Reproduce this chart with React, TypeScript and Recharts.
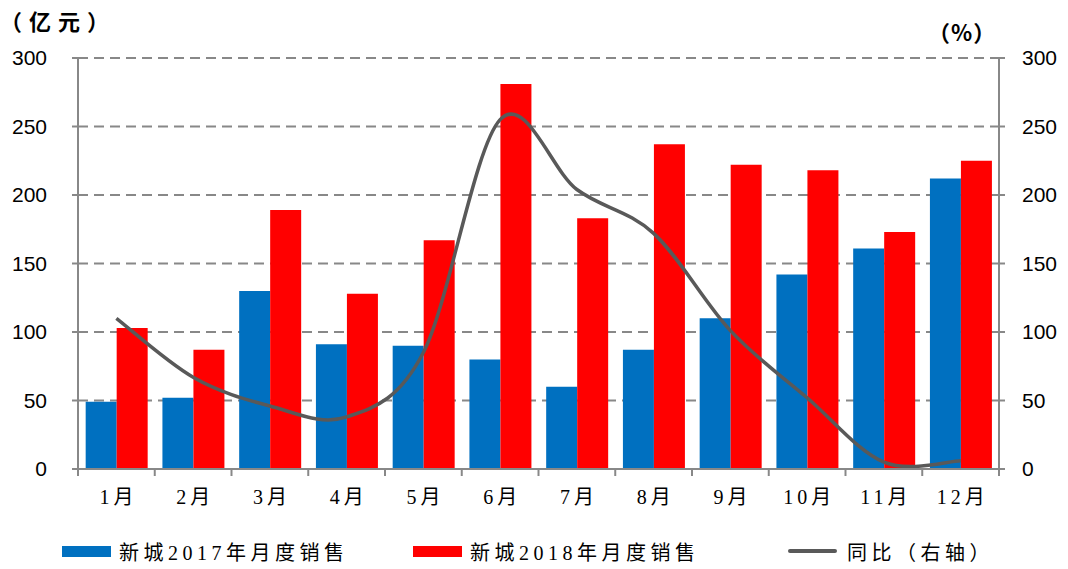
import React from 'react';
import { ComposedChart, Bar, Line, XAxis, YAxis, CartesianGrid } from 'recharts';

const months = ['1月', '2月', '3月', '4月', '5月', '6月', '7月', '8月', '9月', '10月', '11月', '12月'];
const sales2017 = [49, 52, 130, 91, 90, 80, 60, 87, 110, 142, 161, 212];
const sales2018 = [103, 87, 189, 128, 167, 281, 183, 237, 222, 218, 173, 225];
const yoy = [110, 67, 46, 38, 85, 255, 204, 172, 101, 52, 5, 6];
const yTicks = [0, 50, 100, 150, 200, 250, 300];

const seriesNames = ['新城2017年月度销售', '新城2018年月度销售', '同比（右轴）'];

const data = months.map((m, i) => ({ month: m, s2017: sales2017[i], s2018: sales2018[i], yoy: yoy[i] }));

const serif = '"Liberation Serif", "Noto Sans CJK SC", serif';
const sans = '"Liberation Sans", "Noto Sans", sans-serif';

// Excel-like smooth curve (Catmull-Rom style bezier)
const excelCurve = (context: any) => {
  let pts: number[][] = [];
  return {
    areaStart() {},
    areaEnd() {},
    lineStart() {
      pts = [];
    },
    point(x: number, y: number) {
      pts.push([+x, +y]);
    },
    lineEnd() {
      if (!pts.length) return;
      context.moveTo(pts[0][0], pts[0][1]);
      for (let i = 0; i < pts.length - 1; i++) {
        const p0 = pts[i - 1] || pts[i];
        const p1 = pts[i];
        const p2 = pts[i + 1];
        const p3 = pts[i + 2] || pts[i + 1];
        const c1x = p1[0] + (p2[0] - p0[0]) / 6;
        const c1y = p1[1] + (p2[1] - p0[1]) / 6;
        const c2x = p2[0] - (p3[0] - p1[0]) / 6;
        const c2y = p2[1] - (p3[1] - p1[1]) / 6;
        context.bezierCurveTo(c1x, c1y, c2x, c2y, p2[0], p2[1]);
      }
    },
  };
};

const XTick = (props: any) => {
  const { x, y, payload, index } = props;
  const half = payload && typeof payload.offset === 'number' && payload.offset > 0 ? payload.offset : 38.375;
  return (
    <g>
      <line x1={x - half} x2={x - half} y1={y} y2={y + 7} stroke="#888" strokeWidth={2} />
      {index === months.length - 1 && (
        <line x1={x + half} x2={x + half} y1={y} y2={y + 7} stroke="#888" strokeWidth={2} />
      )}
      <text
        x={x + 2}
        y={y + 35}
        textAnchor="middle"
        fontFamily={serif}
        fontSize={20}
        letterSpacing={4}
        fill="#000"
      >
        {payload.value}
      </text>
    </g>
  );
};

const legendItem = (color: string, label: string, left: number, isLine: boolean) => (
  <div style={{ position: 'absolute', left, top: 537, display: 'flex', alignItems: 'center', height: 28 }}>
    <div
      style={{
        width: 49,
        height: isLine ? 4 : 11,
        background: color,
        borderRadius: isLine ? 2 : 0,
      }}
    />
    <span
      style={{
        marginLeft: isLine ? 10 : 8,
        fontFamily: serif,
        fontSize: 20,
        letterSpacing: 4.5,
        color: '#000',
        whiteSpace: 'nowrap',
      }}
    >
      {label}
    </span>
  </div>
);

export default function App() {
  return (
    <div style={{ position: 'absolute', left: 0, top: 0, width: 1068, height: 569, background: '#fff' }}>
      <ComposedChart
        width={1068}
        height={569}
        data={data}
        margin={{ top: 58, right: 9, bottom: 60, left: 8 }}
        barCategoryGap="10%"
        barGap={0}
      >
        <CartesianGrid vertical={false} stroke="#888" strokeWidth={2} strokeDasharray="10 6" yAxisId="left" />
        <XAxis
          dataKey="month"
          height={40}
          tickSize={0}
          tickMargin={0}
          tickLine={false}
          axisLine={{ stroke: '#888', strokeWidth: 2 }}
          tick={<XTick />}
          interval={0}
        />
        <YAxis
          yAxisId="left"
          width={70}
          domain={[0, 300]}
          ticks={yTicks}
          interval={0}
          tickSize={6}
          tickMargin={25}
          axisLine={{ stroke: '#888', strokeWidth: 2 }}
          tickLine={{ stroke: '#888', strokeWidth: 2 }}
          tick={{ fill: '#000', fontSize: 21, fontFamily: sans }}
        />
        <YAxis
          yAxisId="right"
          orientation="right"
          width={60}
          domain={[0, 300]}
          ticks={yTicks}
          interval={0}
          tickSize={6}
          tickMargin={17}
          axisLine={{ stroke: '#888', strokeWidth: 2 }}
          tickLine={{ stroke: '#888', strokeWidth: 2 }}
          tick={{ fill: '#000', fontSize: 21, fontFamily: sans, textAnchor: 'start' }}
        />
        <Bar yAxisId="left" dataKey="s2017" name={seriesNames[0]} fill="#0070C0" isAnimationActive={false} />
        <Bar yAxisId="left" dataKey="s2018" name={seriesNames[1]} fill="#FF0000" isAnimationActive={false} />
        <Line
          yAxisId="right"
          dataKey="yoy"
          name={seriesNames[2]}
          type={excelCurve as any}
          stroke="#595959"
          strokeWidth={3.5}
          dot={false}
          activeDot={false}
          isAnimationActive={false}
        />
      </ComposedChart>
      <div
        style={{
          position: 'absolute',
          left: 0,
          top: 4,
          fontFamily: '"Noto Sans CJK SC", sans-serif',
          fontSize: 22,
          fontWeight: 700,
          letterSpacing: 7,
          whiteSpace: 'nowrap',
        }}
      >
        （亿元）
      </div>
      <div
        style={{
          position: 'absolute',
          left: 928,
          top: 15,
          fontFamily: '"Noto Sans CJK SC", sans-serif',
          fontSize: 22,
          fontWeight: 700,
          letterSpacing: 1,
          whiteSpace: 'nowrap',
        }}
      >
        （%）
      </div>
      {legendItem('#0070C0', seriesNames[0], 62, false)}
      {legendItem('#FF0000', seriesNames[1], 413, false)}
      {legendItem('#595959', seriesNames[2], 788, true)}
    </div>
  );
}
